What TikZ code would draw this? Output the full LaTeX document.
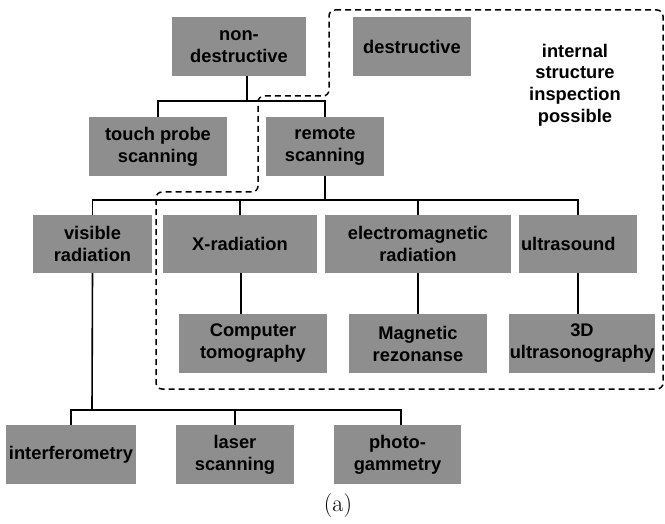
\documentclass[tikz,border=0pt]{standalone}
\usepackage{fontspec}
\newfontfamily\boxfont{Liberation Sans}
\definecolor{boxgray}{RGB}{142,142,142}
\begin{document}
\begin{tikzpicture}[x=1pt,y=-1pt,
  box/.style={fill=boxgray,draw=none,inner sep=0pt,align=center,
    font=\boxfont\bfseries\fontsize{18.3}{22}\selectfont},
  conn/.style={draw=black,line width=1.6pt},
  region/.style={draw=black,line width=1.5pt,dash pattern=on 6pt off 4pt,rounded corners=6pt},
  note/.style={align=center,font=\boxfont\bfseries\fontsize{18.3}{21.7}\selectfont}]
\useasboundingbox (0,0) rectangle (665,524);
% dashed region
\draw[region] (329,10) -- (663,10) -- (663,389) -- (156,389) -- (156,192) -- (258,192) -- (258,96) -- (329,96) -- cycle;
% boxes: centre, width, height
\node[box,minimum width=134pt,minimum height=59pt] (nd) at (239,46.5) {non-\\destructive};
\node[box,minimum width=118pt,minimum height=59pt] (de) at (412,46.5) {destructive};
\node[note] (isp) at (575,85) {internal\\structure\\inspection\\possible};
\node[box,minimum width=138pt,minimum height=59pt] (tp) at (158,146.5) {touch probe\\scanning};
\node[box,minimum width=118pt,minimum height=59pt] (rs) at (325,146.5) {remote\\scanning};
\node[box,minimum width=119pt,minimum height=58pt] (vr) at (92.5,244) {visible\\radiation};
\node[box,minimum width=154pt,minimum height=58pt] (xr) at (240,244) {X-radiation};
\node[box,minimum width=186pt,minimum height=58pt] (em) at (418,244) {electromagnetic\\radiation};
\node[box,minimum width=118pt,minimum height=58pt,text width=114pt,align=left] (us) at (578,244) {ultrasound};
\node[box,minimum width=148pt,minimum height=59pt] (ct) at (253,343.5) {Computer\\tomography};
\node[box,minimum width=138pt,minimum height=59pt] (mr) at (418,343.5) {Magnetic\\rezonanse};
\node[box,minimum width=146pt,minimum height=59pt] (u3) at (582,343.5) {3D\\ultrasonography};
\node[box,minimum width=130pt,minimum height=59pt] (if) at (71,454.5) {interferometry};
\node[box,minimum width=118pt,minimum height=59pt] (ls) at (235,454.5) {laser\\scanning};
\node[box,minimum width=127pt,minimum height=59pt] (pg) at (397.5,454.5) {photo-\\gammetry};
\node[font=\fontsize{24}{28}\selectfont] (cap) at (338,506) {(a)};
% junctions
\coordinate (j1) at (247,101);
\coordinate (j2) at (325,200);
\coordinate (j4) at (92,410);
\coordinate (j5) at (401,410);
\coordinate (j6) at (241,300);
% connectors
\draw[conn] (j1 |- nd.south) -- (j1);
\draw[conn] (tp.north) |- (rs.north |- j1) -- (rs.north);
\draw[conn] (rs.south) -- (j2);
\draw[conn] (vr.north) |- (us.north |- j2) -- (us.north);
\draw[conn] (xr.north) -- (xr.north |- j2);
\draw[conn] (em.north) -- (em.north |- j2);
\draw[conn] (j6 |- xr.south) -- (j6 |- ct.north);
\draw[conn] (em.south) -- (mr.north);
\draw[conn] (us.south) -- (us.south |- u3.north);
\draw[conn] (vr.south) -- (j4);
\draw[conn] (if.north) |- (j5) -- (j5 |- pg.north);
\draw[conn] (ls.north) -- (ls.north |- j4);
\end{tikzpicture}
\end{document}
